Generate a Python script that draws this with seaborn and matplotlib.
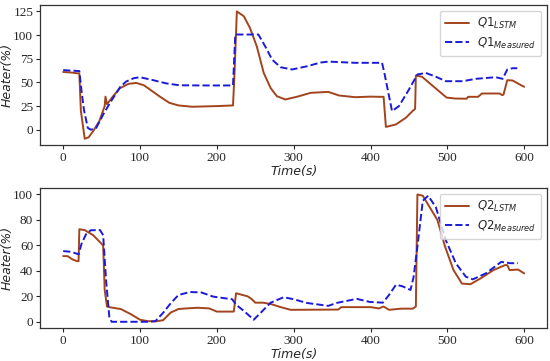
import matplotlib

matplotlib.use("Agg")
import matplotlib.pyplot as plt
import pandas as pd
import seaborn as sns

BROWN = "#a3441c"
BLUE = "#1a1ad8"

# Q1 heater (top panel)
q1_lstm_t = [0, 10, 21, 23, 28, 33, 39, 47, 54, 55, 57, 65, 74, 85, 95, 105, 112, 125, 138, 150,
             168, 200, 221, 223, 226, 235, 243, 252, 261, 270, 278, 289, 304, 322, 345, 359, 380,
             400, 411, 417, 420, 433, 446, 455, 458, 459, 467, 480, 499, 510, 525, 527, 540, 545,
             568, 571, 573, 578, 585, 596, 600]
q1_lstm_v = [61, 60.5, 59.4, 20, -9.5, -8, -1.5, 9, 25, 35, 27, 35.5, 44, 48.5, 49.5, 47, 43, 35.5,
             28.5, 25.7, 24.3, 25, 25.7, 60, 125, 120, 107.7, 88, 60, 44, 35.5, 32, 34.8, 39, 40,
             36.2, 34.4, 35, 34.8, 34.8, 3, 5.6, 12.7, 20, 22, 57.3, 56, 47, 34, 33, 32.8, 34.8,
             34.8, 38.3, 38.3, 36.7, 37, 52.4, 52, 47, 45.4]
q1_meas_t = [0, 10, 21, 24, 27, 32, 36, 43, 52, 61, 74, 82, 92, 100, 117, 134, 151, 180, 221,
             224, 254, 263, 272, 283, 298, 317, 335, 345, 380, 415, 418, 428, 437, 450, 461, 472,
             485, 498, 520, 537, 563, 572, 578, 585, 591]
q1_meas_v = [63, 62.5, 62, 40, 21, 2, 0, 2, 16, 28.5, 45, 51, 54.5, 55.5, 52.4, 49, 47, 46.8, 46.8,
             100.6, 100.6, 88, 74, 66, 63.7, 67, 71, 72, 70.7, 70.7, 60, 19.7, 25, 42.5, 58.4, 60,
             56, 51.3, 51.3, 53.8, 55.5, 53.8, 63.7, 65, 65]

# Q2 heater (bottom panel)
q2_lstm_t = [0, 6, 12, 18, 20, 21, 28, 39, 52, 54, 57, 60, 75, 88, 100, 110, 120, 130, 140, 150,
             160, 175, 190, 200, 222, 225, 240, 245, 250, 260, 270, 283, 296, 330, 358, 362, 380,
             400, 411, 417, 424, 440, 455, 459, 461, 468, 487, 497, 508, 519, 530, 543, 560, 575,
             578, 581, 592, 600]
q2_lstm_v = [51.6, 51.5, 49, 47.6, 47.6, 72.7, 72, 68, 60, 25, 12, 11.5, 10, 6, 1.6, 0.5, 0.3, 1.2,
             7.3, 10, 10.5, 11, 10.5, 8, 8, 22.4, 20, 18, 15, 15, 14, 11.5, 9.4, 9.5, 9.6, 11.5,
             11.5, 11.5, 10.5, 12, 9.4, 10.3, 10.3, 12, 100, 99, 80, 59, 40.6, 30, 29.5, 34, 40.6,
             44.5, 44.5, 40.6, 41, 38]
q2_meas_t = [0, 10, 20, 24, 30, 36, 48, 52, 56, 60, 63, 100, 110, 120, 130, 140, 150, 165, 180,
             195, 210, 220, 225, 235, 248, 260, 270, 287, 300, 317, 345, 356, 382, 399, 416, 424,
             433, 441, 452, 456, 461, 468, 475, 485, 498, 511, 524, 533, 550, 570, 582, 592]
q2_meas_v = [55.5, 55, 53, 61.5, 69, 71.9, 72, 68, 31, 4, 0, 0, 0, 0.5, 7, 14.6, 21, 23.4, 23,
             19.8, 18.5, 17.7, 13.4, 8.6, 1.6, 8.9, 15, 19.3, 17.7, 14.8, 12.5, 14.8, 18, 15.6, 15,
             21, 29, 28, 25, 35, 59, 95, 99, 90, 64, 46, 35.4, 33.3, 38, 47, 46, 46]

x_ticks = [0, 100, 200, 300, 400, 500, 600]
panels = [
    ("Q1", q1_lstm_t, q1_lstm_v, q1_meas_t, q1_meas_v, [0, 25, 50, 75, 100, 125]),
    ("Q2", q2_lstm_t, q2_lstm_v, q2_meas_t, q2_meas_v, [0, 20, 40, 60, 80, 100]),
]

sns.set_style("ticks")
# tick labels in a Times-like serif, axis labels / legend stay sans
plt.rcParams["font.family"] = ["Liberation Serif", "DejaVu Serif"]
plt.rcParams["mathtext.fontset"] = "dejavusans"
SANS = "DejaVu Sans"

fig = plt.figure(figsize=(5.5, 3.61), dpi=100)
boxes = [[0.073, 0.598, 0.922, 0.388], [0.073, 0.091, 0.922, 0.388]]

for box, (name, lt, lv, mt, mv, yt) in zip(boxes, panels):
    ax = fig.add_axes(box)
    lstm = pd.DataFrame({"t": lt, "v": lv})
    meas = pd.DataFrame({"t": mt, "v": mv})
    sns.lineplot(data=lstm, x="t", y="v", ax=ax, color=BROWN, linewidth=1.4,
                 label=rf"${name}_{{LSTM}}$")
    sns.lineplot(data=meas, x="t", y="v", ax=ax, color=BLUE, linewidth=1.4,
                 linestyle="--", label=rf"${name}_{{Measured}}$")
    ax.set_xticks(x_ticks)
    ax.set_yticks(yt)
    ax.tick_params(length=3, width=0.8, pad=2, labelsize=9.5)
    ax.set_xlabel("Time(s)", fontsize=9, style="italic", family=SANS, labelpad=1)
    ax.set_ylabel("Heater(%)", fontsize=9, style="italic", family=SANS)
    ax.yaxis.set_label_coords(-0.052, 0.5)
    for s in ax.spines.values():
        s.set_color("#333333")
        s.set_linewidth(0.9)
    ax.legend(loc="upper right", fontsize=8.5, handlelength=2.0, borderpad=0.45,
              labelspacing=0.35, handletextpad=0.7, fancybox=True)

fig.savefig("out.png", dpi=100)
